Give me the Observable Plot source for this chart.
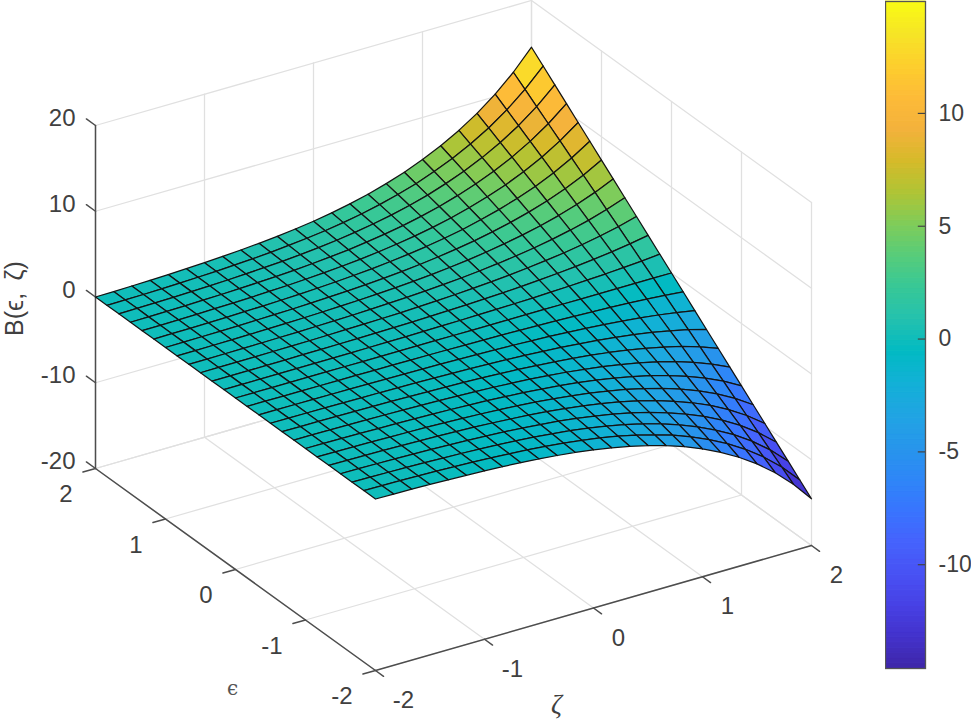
<!DOCTYPE html>
<html><head><meta charset="utf-8">
<script src="https://cdn.jsdelivr.net/npm/d3@7"></script>
<script src="https://cdn.jsdelivr.net/npm/@observablehq/plot@0.6"></script>
<style>html,body{margin:0;padding:0;background:#fff}#wrap{position:relative;width:971px;height:719px;overflow:hidden}#wrap svg{position:absolute;top:0;left:0;background:transparent}</style>
</head><body><div id="wrap"></div>
<script>
const epsilonTicks=[-2,-1,0,1,2], zetaTicks=[-2,-1,0,1,2], bTicks=[-20,-10,0,10,20], barTicks=[-10,-5,0,5,10];
const colorMin=-14.6, colorMax=14.96;
const parula=["#3e26a8","#4332cb","#4741e5","#4852f4","#4563fd","#3875fe","#2e87f7","#2796eb","#20a5e3","#12b1d6","#02bac3","#24c1ae","#37c897","#57cc7a","#80cc59","#b0c435","#d6ba2a","#f4b23c","#fdbb38","#fdcf2d","#f6e526","#f9fb14"];
// B(epsilon, zeta): one row per epsilon (-2 to 2 in steps of 1/6), one column per zeta (-2 to 2 in steps of 1/6)
const row00=[0,-.03,-.07,-.12,-.19,-.27,-.36,-.48,-.62,-.79,-1,-1.25,-1.55,-1.92,-2.36,-2.88,-3.5,-4.22,-5.1,-6.1,-7.28,-8.66,-10.3,-12.24,-14.55];
const row01=[0,-.03,-.06,-.11,-.17,-.25,-.33,-.44,-.57,-.72,-.92,-1.15,-1.42,-1.76,-2.16,-2.64,-3.21,-3.87,-4.68,-5.59,-6.67,-7.94,-9.44,-11.22,-13.34];
const row02=[0,-.03,-.06,-.1,-.16,-.23,-.3,-.4,-.52,-.66,-.83,-1.04,-1.29,-1.6,-1.97,-2.4,-2.92,-3.52,-4.25,-5.08,-6.07,-7.22,-8.58,-10.2,-12.13];
const row03=[0,-.02,-.05,-.09,-.14,-.2,-.27,-.36,-.47,-.59,-.75,-.94,-1.16,-1.44,-1.77,-2.16,-2.63,-3.17,-3.83,-4.58,-5.46,-6.5,-7.73,-9.18,-10.91];
const row04=[0,-.02,-.05,-.08,-.13,-.18,-.24,-.32,-.41,-.53,-.67,-.83,-1.03,-1.28,-1.57,-1.92,-2.33,-2.81,-3.4,-4.07,-4.85,-5.77,-6.87,-8.16,-9.7];
const row05=[0,-.02,-.04,-.07,-.11,-.16,-.21,-.28,-.36,-.46,-.58,-.73,-.9,-1.12,-1.38,-1.68,-2.04,-2.46,-2.98,-3.56,-4.25,-5.05,-6.01,-7.14,-8.49];
const row06=[0,-.02,-.04,-.06,-.1,-.14,-.18,-.24,-.31,-.4,-.5,-.63,-.78,-.96,-1.18,-1.44,-1.75,-2.11,-2.55,-3.05,-3.64,-4.33,-5.15,-6.12,-7.28];
const row07=[0,-.01,-.03,-.05,-.08,-.11,-.15,-.2,-.26,-.33,-.42,-.52,-.65,-.8,-.98,-1.2,-1.46,-1.76,-2.13,-2.54,-3.03,-3.61,-4.29,-5.1,-6.06];
const row08=[0,-.01,-.02,-.04,-.06,-.09,-.12,-.16,-.21,-.26,-.33,-.42,-.52,-.64,-.79,-.96,-1.17,-1.41,-1.7,-2.03,-2.43,-2.89,-3.43,-4.08,-4.85];
const row09=[0,-.01,-.02,-.03,-.05,-.07,-.09,-.12,-.16,-.2,-.25,-.31,-.39,-.48,-.59,-.72,-.88,-1.06,-1.28,-1.53,-1.82,-2.17,-2.58,-3.06,-3.64];
const row10=[0,-.01,-.01,-.02,-.03,-.05,-.06,-.08,-.1,-.13,-.17,-.21,-.26,-.32,-.39,-.48,-.58,-.7,-.85,-1.02,-1.21,-1.44,-1.72,-2.04,-2.43];
const row11=[0,0,-.01,-.01,-.02,-.02,-.03,-.04,-.05,-.07,-.08,-.1,-.13,-.16,-.2,-.24,-.29,-.35,-.43,-.51,-.61,-.72,-.86,-1.02,-1.21];
const row12=[0,0,0,0,0,0,0,0,0,0,0,0,0,0,0,0,0,0,0,0,0,0,0,0,0];
const row13=[0,0,.01,.01,.02,.02,.03,.04,.05,.07,.08,.1,.13,.16,.2,.24,.29,.35,.43,.51,.61,.72,.86,1.02,1.21];
const row14=[0,.01,.01,.02,.03,.05,.06,.08,.1,.13,.17,.21,.26,.32,.39,.48,.58,.7,.85,1.02,1.21,1.44,1.72,2.04,2.43];
const row15=[0,.01,.02,.03,.05,.07,.09,.12,.16,.2,.25,.31,.39,.48,.59,.72,.88,1.06,1.28,1.53,1.82,2.17,2.58,3.06,3.64];
const row16=[0,.01,.02,.04,.06,.09,.12,.16,.21,.26,.33,.42,.52,.64,.79,.96,1.17,1.41,1.7,2.03,2.43,2.89,3.43,4.08,4.85];
const row17=[0,.01,.03,.05,.08,.11,.15,.2,.26,.33,.42,.52,.65,.8,.98,1.2,1.46,1.76,2.13,2.54,3.03,3.61,4.29,5.1,6.06];
const row18=[0,.02,.04,.06,.1,.14,.18,.24,.31,.4,.5,.63,.78,.96,1.18,1.44,1.75,2.11,2.55,3.05,3.64,4.33,5.15,6.12,7.28];
const row19=[0,.02,.04,.07,.11,.16,.21,.28,.36,.46,.58,.73,.9,1.12,1.38,1.68,2.04,2.46,2.98,3.56,4.25,5.05,6.01,7.14,8.49];
const row20=[0,.02,.05,.08,.13,.18,.24,.32,.41,.53,.67,.83,1.03,1.28,1.57,1.92,2.33,2.81,3.4,4.07,4.85,5.77,6.87,8.16,9.7];
const row21=[0,.02,.05,.09,.14,.2,.27,.36,.47,.59,.75,.94,1.16,1.44,1.77,2.16,2.63,3.17,3.83,4.58,5.46,6.5,7.73,9.18,10.91];
const row22=[0,.03,.06,.1,.16,.23,.3,.4,.52,.66,.83,1.04,1.29,1.6,1.97,2.4,2.92,3.52,4.25,5.08,6.07,7.22,8.58,10.2,12.13];
const row23=[0,.03,.06,.11,.17,.25,.33,.44,.57,.72,.92,1.15,1.42,1.76,2.16,2.64,3.21,3.87,4.68,5.59,6.67,7.94,9.44,11.22,13.34];
const row24=[0,.03,.07,.12,.19,.27,.36,.48,.62,.79,1,1.25,1.55,1.92,2.36,2.88,3.5,4.22,5.1,6.1,7.28,8.66,10.3,12.24,14.55];
const rows=[row00,row01,row02,row03,row04,row05,row06,row07,row08,row09,row10,row11,row12,row13,row14,row15,row16,row17,row18,row19,row20,row21,row22,row23,row24];

const font='"Liberation Sans",Arial,sans-serif', ink="#404040";
// Orthographic camera: screen position of the box's front-bottom corner and its three edge vectors.
const cam={x0:375,y0:670,ex:-280,ey:-202,zx:436,zy:-125,by:-343};
const sx=(e,z)=>cam.x0+(e+2)/4*cam.ex+(z+2)/4*cam.zx;
const sy=(e,z,b)=>cam.y0+(e+2)/4*cam.ey+(z+2)/4*cam.zy+(b+20)/40*cam.by;
const P=(e,z,b,id,extra)=>({x:sx(e,z),y:sy(e,z,b),id,...extra});
const step=i=>-2+i/6;

// surface cells, far corner first
const cells=[];let cid=0;
for(let i=23;i>=0;i--)for(let j=23;j>=0;j--){
  const v=(rows[i][j]+rows[i+1][j]+rows[i][j+1]+rows[i+1][j+1])/4;
  for(const [a,b] of [[i,j],[i+1,j],[i+1,j+1],[i,j+1],[i,j]])cells.push(P(step(a),step(b),rows[a][b],cid,{v}));
  cid++;
}
// back planes grid
const grid=[];let gid=0;
for(const b of bTicks){grid.push(P(2,-2,b,gid),P(2,2,b,gid),P(-2,2,b,gid));gid++;}
for(const z of zetaTicks){grid.push(P(-2,z,-20,gid),P(2,z,-20,gid),P(2,z,20,gid));gid++;}
for(const e of epsilonTicks){grid.push(P(e,-2,-20,gid),P(e,2,-20,gid),P(e,2,20,gid));gid++;}
// axes
const axes=[];let aid=0;
axes.push(P(2,-2,20,aid),P(2,-2,-20,aid),P(-2,-2,-20,aid),P(-2,2,-20,aid));aid++;
for(const b of bTicks){axes.push(P(2,-2,b,aid),P(2.13,-2,b,aid));aid++;}
for(const e of epsilonTicks){axes.push(P(e,-2,-20,aid),P(e,-2.115,-20,aid));aid++;}
for(const z of zetaTicks){axes.push(P(-2,z,-20,aid),P(-2.115,z,-20,aid));aid++;}

const label=(p,text,opts)=>Plot.text([{...p,text}],{x:"x",y:"y",text:"text",fontFamily:font,fontSize:24,fill:ink,...opts});
const colorScale={type:"linear",domain:[colorMin,colorMax],interpolate:d3.piecewise(d3.interpolateRgb,parula)};

const main=Plot.plot({width:971,height:719,margin:0,
  x:{domain:[0,971],range:[0,971],axis:null},
  y:{domain:[0,719],range:[0,719],axis:null},
  color:colorScale,
  marks:[
    Plot.line(grid,{x:"x",y:"y",z:"id",stroke:"#e0e0e0",strokeWidth:1.3}),
    Plot.line(axes,{x:"x",y:"y",z:"id",stroke:"#4d4d4d",strokeWidth:1.5}),
    Plot.line(cells,{x:"x",y:"y",z:"id",fill:"v",stroke:"#141414",strokeWidth:1.25}),
    Plot.text(bTicks,{x:()=>sx(2,-2),y:d=>sy(2,-2,d),text:d=>String(d),dx:-20,dy:-7,textAnchor:"end",fontFamily:font,fontSize:24,fill:ink}),
    Plot.text(epsilonTicks,{x:d=>sx(d,-2),y:d=>sy(d,-2,-20),text:d=>String(d),dx:-23,dy:26,textAnchor:"end",fontFamily:font,fontSize:24,fill:ink}),
    Plot.text(zetaTicks,{x:d=>sx(-2,d)+(d<0?28:25),y:d=>sy(-2,d,-20),text:d=>String(d),dy:30,textAnchor:"middle",fontFamily:font,fontSize:24,fill:ink}),
    label({x:14,y:298},"B(ϵ,\u2002ζ)",{rotate:-90,fontSize:25}),
    label({x:232,y:688},"ϵ",{fontFamily:'"DejaVu Serif",serif',fontSize:20,fill:"#555"}),
    label({x:556,y:704},"ζ",{fontFamily:'"Liberation Serif",serif',fontStyle:"italic",fontSize:27})
  ]});

const nBand=128,bw=(colorMax-colorMin)/nBand;
const bands=d3.range(nBand).map(i=>({y1:colorMin+i*bw,y2:colorMin+(i+1)*bw,v:colorMin+(i+.5)*bw}));
const bar=Plot.plot({width:86,height:719,marginLeft:0,marginRight:46,marginTop:1,marginBottom:51,
  x:{domain:[0,1],axis:null},
  y:{domain:[colorMin,colorMax],axis:null},
  color:colorScale,
  marks:[
    Plot.rect(bands,{x1:0,x2:1,y1:"y1",y2:"y2",fill:"v",stroke:"v",strokeWidth:1,inset:0}),
    Plot.frame({stroke:"#555",strokeWidth:1.3}),
    Plot.ruleY(barTicks,{x1:.82,x2:1,stroke:"#444",strokeWidth:1.2}),
    Plot.text(barTicks,{x:1,y:d=>d,text:d=>String(d),dx:13,textAnchor:"start",fontFamily:font,fontSize:23,fill:ink})
  ]});
bar.style.left="885px";
document.getElementById("wrap").append(main,bar);
</script></body></html>
